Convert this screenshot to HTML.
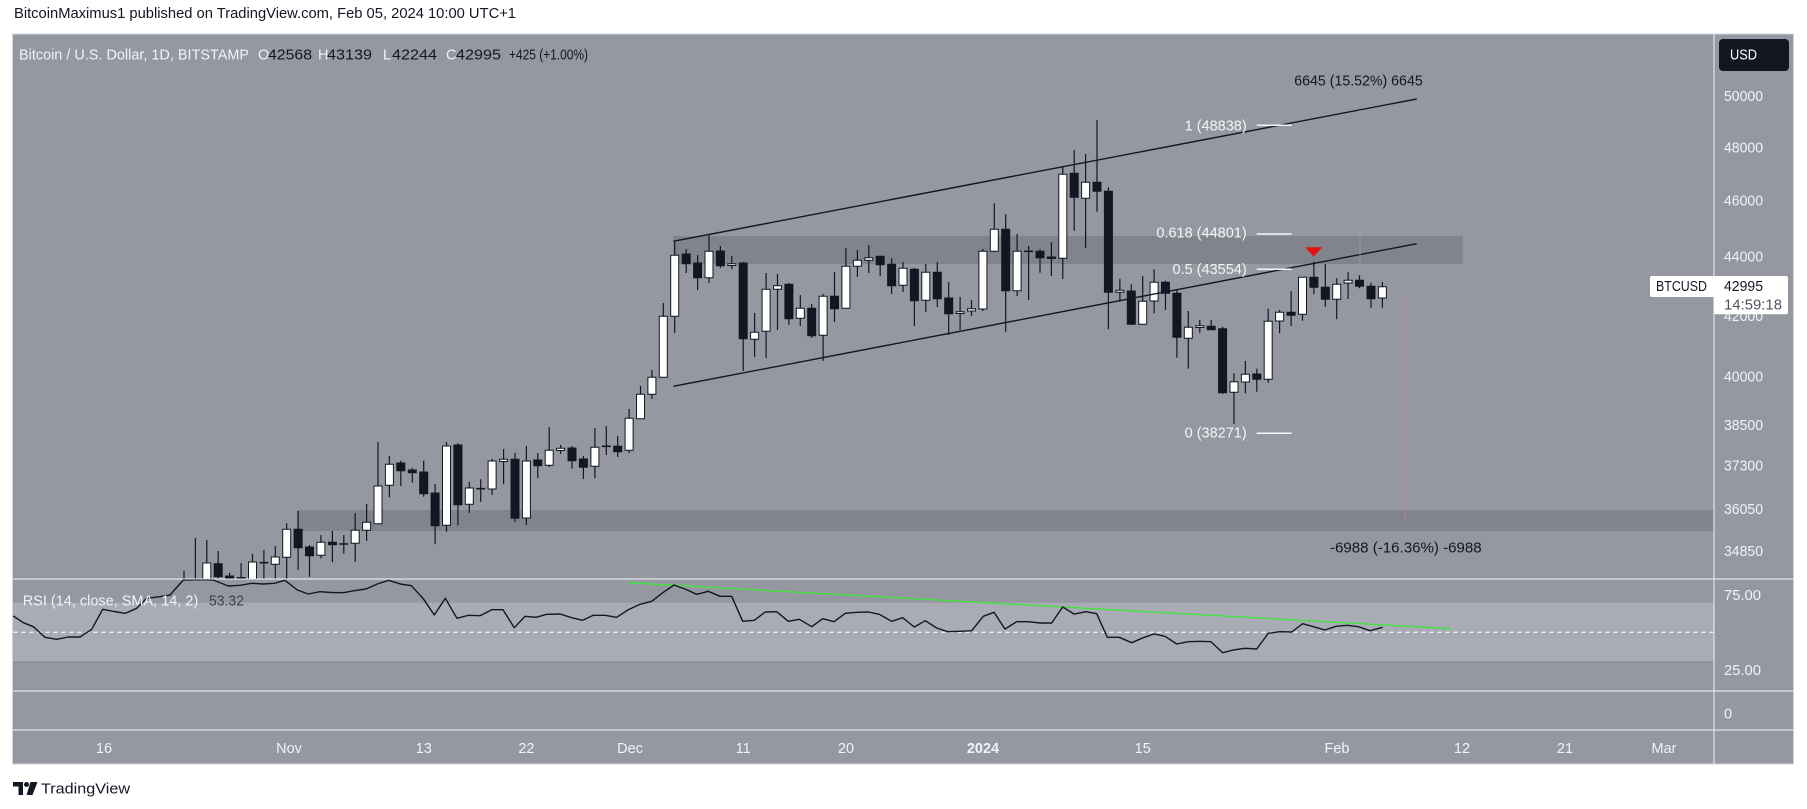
<!DOCTYPE html>
<html><head><meta charset="utf-8"><title>BTCUSD chart</title>
<style>
html,body{margin:0;padding:0;background:#fff;}
svg{display:block;font-family:"Liberation Sans",Arial,sans-serif;}
</style></head>
<body>
<svg width="1807" height="809" viewBox="0 0 1807 809" xmlns="http://www.w3.org/2000/svg">
<defs>
<clipPath id="mainClip"><rect x="13" y="34.5" width="1700.5" height="544"/></clipPath>
<clipPath id="rsiClip"><rect x="13" y="579.5" width="1700.5" height="111"/></clipPath>
</defs>

<!-- publish line -->
<text x="14" y="18" font-size="14.5" fill="#131722" textLength="502" lengthAdjust="spacingAndGlyphs">BitcoinMaximus1 published on TradingView.com, Feb 05, 2024 10:00 UTC+1</text>

<!-- frame background -->
<rect x="12.5" y="34" width="1781" height="730" fill="#9598a1" stroke="#d1d4dc" stroke-width="1"/>

<!-- main pane bands -->
<g clip-path="url(#mainClip)">
<rect x="673.3" y="236" width="789.4" height="28" fill="#81848d"/>
<rect x="297" y="510" width="1417" height="21" fill="#81848d"/>
</g>

<!-- RSI band -->
<rect x="13" y="602.7" width="1701" height="59.3" fill="#a9acb5"/>
<line x1="13" y1="662" x2="1714" y2="662" stroke="#868993" stroke-width="1.2"/>
<line x1="13" y1="632.3" x2="1714" y2="632.3" stroke="#ffffff" stroke-width="1" stroke-dasharray="4.7 3.3"/>

<!-- separators -->
<line x1="12.5" y1="579" x2="1793.5" y2="579" stroke="#e0e3eb" stroke-width="1.2"/>
<line x1="12.5" y1="691" x2="1793.5" y2="691" stroke="#e0e3eb" stroke-width="1.2"/>
<line x1="12.5" y1="730" x2="1793.5" y2="730" stroke="#e0e3eb" stroke-width="1.2"/>
<line x1="1714" y1="34" x2="1714" y2="764" stroke="#e0e3eb" stroke-width="1.2"/>

<!-- header -->
<text x="19" y="59.5" font-size="14.5" fill="#f0f3fa" textLength="230" lengthAdjust="spacingAndGlyphs">Bitcoin / U.S. Dollar, 1D, BITSTAMP</text>
<text x="258" y="59.5" font-size="14.5" fill="#f0f3fa">O</text>
<text x="268" y="59.5" font-size="14.5" fill="#131722" textLength="44" lengthAdjust="spacingAndGlyphs">42568</text>
<text x="318" y="59.5" font-size="14.5" fill="#f0f3fa">H</text>
<text x="327" y="59.5" font-size="14.5" fill="#131722" textLength="45" lengthAdjust="spacingAndGlyphs">43139</text>
<text x="383" y="59.5" font-size="14.5" fill="#f0f3fa">L</text>
<text x="392" y="59.5" font-size="14.5" fill="#131722" textLength="45" lengthAdjust="spacingAndGlyphs">42244</text>
<text x="446" y="59.5" font-size="14.5" fill="#f0f3fa">C</text>
<text x="456" y="59.5" font-size="14.5" fill="#131722" textLength="45" lengthAdjust="spacingAndGlyphs">42995</text>
<text x="509" y="59.5" font-size="14.5" fill="#131722" textLength="79" lengthAdjust="spacingAndGlyphs">+425 (+1.00%)</text>

<!-- candles -->
<g clip-path="url(#mainClip)">
<path fill="none" stroke="#131722" stroke-width="1.2" d="M184 571V580M195.4 538V580M206.8 540V590M218.2 551V585M229.6 572.7V590M241.1 563V590M252.5 553.7V590M263.9 550V585M275.3 546V585M286.7 523.3V585M298.1 511V570M309.5 545V576.7M320.9 535V558.3M332.4 531V562.3M343.8 535V553.7M355.2 513V561.7M366.6 504V541M378 442V524.3M389.4 456V497.3M400.8 460.7V486M412.3 467.7V482.7M423.7 460.7V496.7M435.1 484V544.3M446.5 442V531.7M457.9 443.3V525.3M469.3 482V512.7M480.7 479.3V501.7M492.1 458.7V495M503.6 449V484.3M515 452.7V522M526.4 446V525M537.8 453V478M549.2 427V467M560.6 445V453.7M572 446V468.7M583.4 456V479M594.9 428V478M606.3 426V455M617.7 436V457M629.1 409V453M640.5 386V419M651.9 370V399M663.3 303V377M674.7 242V333M686.2 249V273M697.6 255V290M709 235V283M720.4 246V268M731.8 256V269M743.2 262V371M754.6 313V357M766.1 273V358M777.5 274V330M788.9 283V325M800.3 295V326M811.7 304V338M823.1 294V361M834.5 272V322M845.9 248V308M857.4 250V277M868.8 245V273M880.2 256V276M891.6 258V294M903 262V292M914.4 268V326M925.8 264V312M937.3 262V307M948.7 282V335M960.1 297V330M971.5 300V316M982.9 249V311M994.3 203.3V252M1005.7 214.3V331.7M1017.1 234V296M1028.6 246V300M1040 249.3V272.7M1051.4 242.3V276M1062.8 167.3V279M1074.2 150V230.7M1085.6 154V247.7M1097 120V211.7M1108.4 187.3V329.3M1119.9 278.7V301.7M1131.3 284.3V325M1142.7 276V324.3M1154.1 269.3V313.3M1165.5 280.7V310M1176.9 290V357.7M1188.3 311V368.7M1199.8 320V332.7M1211.2 320V330M1222.6 326.7V394M1234 373.3V424M1245.4 361V393.3M1256.8 368.7V391.7M1268.2 308.7V382.7M1279.6 310V333.3M1291.1 291V326M1302.5 277.3V320.7M1313.9 261.7V294.3M1325.3 264V306.7M1336.7 278.3V319.3M1348.1 272V299M1359.5 275.3V288.3M1371 282.7V307.7M1382.4 282V307.7"/>
<path fill="none" stroke="#131722" stroke-width="1.6" d="M259.4 562.7H268.4M339.3 544H348.3M476.2 488.7H485.2M601.8 446.3H610.8M1024.1 251.3H1033.1"/>
<path fill="#131722" stroke="#131722" stroke-width="1" d="M214.2 563.7H222.2V576.7H214.2ZM225.6 576H233.6V582H225.6ZM237.1 577.5H245.1V582H237.1ZM294.1 529.3H302.1V547.7H294.1ZM305.5 547H313.5V555.7H305.5ZM328.4 542.3H336.4V544.7H328.4ZM396.8 463H404.8V470.7H396.8ZM408.3 470H416.3V472.7H408.3ZM419.7 472H427.7V493.7H419.7ZM431.1 493H439.1V525.7H431.1ZM453.9 445H461.9V504.7H453.9ZM511 459.3H519V518.3H511ZM533.8 460H541.8V465.7H533.8ZM568 448H576V460.7H568ZM579.4 459H587.4V467.3H579.4ZM613.7 446.3H621.7V451.7H613.7ZM682.2 254H690.2V263.7H682.2ZM693.6 263H701.6V277.7H693.6ZM716.4 251H724.4V265.7H716.4ZM739.2 263H747.2V338.7H739.2ZM784.9 284.3H792.9V318.7H784.9ZM807.7 308.3H815.7V335.7H807.7ZM830.5 296.3H838.5V308.7H830.5ZM876.2 256.3H884.2V264.7H876.2ZM887.6 264.3H895.6V285.7H887.6ZM910.4 269.3H918.4V300.7H910.4ZM933.3 272.3H941.3V298.7H933.3ZM944.7 298H952.7V313.7H944.7ZM1001.7 229.3H1009.7V290.7H1001.7ZM1036 251.3H1044V257.7H1036ZM1047.4 257H1055.4V258.5H1047.4ZM1070.2 173.3H1078.2V197.3H1070.2ZM1093 182.3H1101V191.3H1093ZM1104.4 191.3H1112.4V292.3H1104.4ZM1127.3 291H1135.3V324.3H1127.3ZM1161.5 282.3H1169.5V293.3H1161.5ZM1172.9 293.3H1180.9V337.3H1172.9ZM1207.2 326.3H1215.2V329.7H1207.2ZM1218.6 328.7H1226.6V392.7H1218.6ZM1252.8 374H1260.8V379.3H1252.8ZM1287.1 312.3H1295.1V315.3H1287.1ZM1309.9 277.3H1317.9V287.3H1309.9ZM1321.3 287.3H1329.3V299.3H1321.3ZM1355.5 280.3H1363.5V286.3H1355.5ZM1367 286.3H1375V298.7H1367Z"/>
<path fill="#ffffff" stroke="#131722" stroke-width="1" d="M202.8 563H210.8V590H202.8ZM248.5 562H256.5V585H248.5ZM271.3 557H279.3V564.3H271.3ZM282.7 529.3H290.7V557.3H282.7ZM316.9 542.3H324.9V555.3H316.9ZM351.2 530.3H359.2V543.3H351.2ZM362.6 522.3H370.6V530.3H362.6ZM374 486H382V523.7H374ZM385.4 464.3H393.4V485.3H385.4ZM442.5 446H450.5V525.3H442.5ZM465.3 488H473.3V504.3H465.3ZM488.1 461H496.1V489H488.1ZM499.6 459.3H507.6V461.5H499.6ZM522.4 461H530.4V518H522.4ZM545.2 450.3H553.2V465.3H545.2ZM556.6 448.3H564.6V450.5H556.6ZM590.9 447.3H598.9V466.3H590.9ZM625.1 418.3H633.1V450.3H625.1ZM636.5 394.3H644.5V418.7H636.5ZM647.9 377.3H655.9V394.3H647.9ZM659.3 316.3H667.3V377.3H659.3ZM670.7 255.3H678.7V316.3H670.7ZM705 251.3H713V277.7H705ZM727.8 263.7H735.8V265.5H727.8ZM750.6 332.3H758.6V339.3H750.6ZM762.1 289.3H770.1V331.3H762.1ZM773.5 285.7H781.5V289.3H773.5ZM796.3 308.3H804.3V318.3H796.3ZM819.1 296.3H827.1V335.3H819.1ZM841.9 266.3H849.9V308.3H841.9ZM853.4 260.3H861.4V266.3H853.4ZM864.8 257.7H872.8V260.3H864.8ZM899 268.3H907V285.3H899ZM921.8 272.3H929.8V300.3H921.8ZM956.1 311.7H964.1V313.5H956.1ZM967.5 308.7H975.5V311H967.5ZM978.9 251.3H986.9V309H978.9ZM990.3 229.3H998.3V251.3H990.3ZM1013.1 251.3H1021.1V290.7H1013.1ZM1058.8 174.3H1066.8V258.3H1058.8ZM1081.6 182.3H1089.6V198.3H1081.6ZM1115.9 290.3H1123.9V292.3H1115.9ZM1138.7 301.3H1146.7V324.3H1138.7ZM1150.1 282.3H1158.1V301H1150.1ZM1184.3 327.3H1192.3V338.3H1184.3ZM1195.8 325.7H1203.8V327.5H1195.8ZM1230 381.7H1238V392.3H1230ZM1241.4 374.3H1249.4V382H1241.4ZM1264.2 321.3H1272.2V379.3H1264.2ZM1275.6 312.3H1283.6V321H1275.6ZM1298.5 277.3H1306.5V314.3H1298.5ZM1332.7 284.3H1340.7V299.3H1332.7ZM1344.1 280.3H1352.1V283H1344.1ZM1378.4 286.7H1386.4V298H1378.4Z"/>

<!-- channel lines -->
<line x1="673.3" y1="241.3" x2="1416.7" y2="99" stroke="#131722" stroke-width="1.4"/>
<line x1="673.3" y1="386.3" x2="1416.7" y2="243.7" stroke="#131722" stroke-width="1.4"/>

<!-- measure vertical lines -->
<line x1="1360" y1="110" x2="1360" y2="275" stroke="#7fb089" stroke-opacity="0.7" stroke-width="1"/>
<line x1="1405.3" y1="293" x2="1405.3" y2="520" stroke="#c0868d" stroke-opacity="0.7" stroke-width="1"/>

<!-- red triangle -->
<polygon points="1305,247.3 1322.3,247.3 1313.7,256.7" fill="#e31212"/>

<!-- fib lines -->
<g stroke="#f5f5f5" stroke-width="1.5">
<line x1="1256.7" y1="125.3" x2="1291.7" y2="125.3"/>
<line x1="1256.7" y1="234" x2="1291.7" y2="234"/>
<line x1="1256.7" y1="269.3" x2="1291.7" y2="269.3"/>
<line x1="1256.7" y1="433.3" x2="1291.7" y2="433.3"/>
</g>
<g font-size="14.5" fill="#f5f5f5" text-anchor="end">
<text x="1246.7" y="130.3">1 (48838)</text>
<text x="1246.7" y="237.7">0.618 (44801)</text>
<text x="1246.7" y="274">0.5 (43554)</text>
<text x="1246.7" y="437.3">0 (38271)</text>
</g>
<text x="1294.3" y="85.7" font-size="14.5" fill="#131722" textLength="128.4" lengthAdjust="spacingAndGlyphs">6645 (15.52%) 6645</text>
<text x="1330" y="552.3" font-size="14.5" fill="#131722" textLength="151.7" lengthAdjust="spacingAndGlyphs">-6988 (-16.36%) -6988</text>
</g>

<!-- RSI -->
<g clip-path="url(#rsiClip)">
<line x1="628.3" y1="582.7" x2="1450.7" y2="628.7" stroke="#3fe63a" stroke-width="1.3"/>
<polyline fill="none" stroke="#131722" stroke-width="1.4" stroke-linejoin="round" points="13.3,616 23.3,622.7 33.3,626.7 45,637.3 56.7,639.3 68.3,637 80,637 91.7,629.3 102.7,609.3 114,611.5 125.3,613.3 136.7,608.3 146.7,598.3 160,596.7 170,595 183.3,580 194.3,579.8 206.3,579.8 213.3,580 228.3,586 240,585.3 251.7,583.3 263.3,584 274.3,583.3 285,580.3 297.3,590 308.3,594 320,591.7 331.3,592.5 343.3,592.7 354.3,590.7 366,589 377.3,584 388.7,580.3 400.3,584 411.3,585.7 423,598.3 434.3,615 445.3,598.3 457,618.3 468.3,615.3 480,615.7 491.7,609.7 503,609.7 514.3,627.7 525,616.3 536,617.3 546.7,614.3 560,614 571.7,617.7 582.7,620.3 593.3,615.3 605,615.3 616.7,617.3 628.3,609.7 640,604.3 651.7,601.3 663.3,592.3 674,585 685,589 696.7,594.3 708.3,591.3 720,596.3 731.7,596.3 742.7,621.3 754.3,620.3 765.3,612 776.7,611.7 788.3,621.3 799.3,619.3 811.7,626.7 822.7,618.7 834,621.7 845.3,613.3 856.7,612.3 868.3,612 879.3,614.3 891.7,621.3 902.7,617.7 914.3,627 925.3,620.7 936.7,628 947.7,631.7 959.5,631.3 971.7,630.7 983.3,616.3 994,612.3 1005,629 1016.7,621.7 1028.3,621.7 1040,623 1051.7,623 1062.7,607 1074,614 1086,611.7 1096.7,613.7 1107.3,637.3 1119.3,637.3 1131.7,642.7 1143.3,637.7 1154,634 1165,636.3 1176.7,644 1188.3,641.7 1200,641.3 1211,641.7 1222.7,652.7 1233.3,650 1245,648.3 1256.7,649 1268.3,633.3 1280,631.7 1291.7,632 1302.7,623.7 1313.3,626.7 1325,630 1336,626.3 1347.3,625.3 1358.3,626.7 1370,630.7 1382.7,627.3"/>
</g>
<text x="22.7" y="605.7" font-size="14.5" fill="#f0f3fa" textLength="175.6" lengthAdjust="spacingAndGlyphs">RSI (14, close, SMA, 14, 2)</text>
<text x="209" y="605.5" font-size="14.5" fill="#3d4049" textLength="35" lengthAdjust="spacingAndGlyphs">53.32</text>

<!-- price axis -->
<g font-size="14.5" fill="#f0f3fa">
<text x="1724" y="101" textLength="39" lengthAdjust="spacingAndGlyphs">50000</text>
<text x="1724" y="152.7" textLength="39" lengthAdjust="spacingAndGlyphs">48000</text>
<text x="1724" y="205.7" textLength="39" lengthAdjust="spacingAndGlyphs">46000</text>
<text x="1724" y="261.7" textLength="39" lengthAdjust="spacingAndGlyphs">44000</text>
<text x="1724" y="321" textLength="39" lengthAdjust="spacingAndGlyphs">42000</text>
<text x="1724" y="381.7" textLength="39" lengthAdjust="spacingAndGlyphs">40000</text>
<text x="1724" y="430" textLength="39" lengthAdjust="spacingAndGlyphs">38500</text>
<text x="1724" y="470.7" textLength="39" lengthAdjust="spacingAndGlyphs">37300</text>
<text x="1724" y="514" textLength="39" lengthAdjust="spacingAndGlyphs">36050</text>
<text x="1724" y="556" textLength="39" lengthAdjust="spacingAndGlyphs">34850</text>
<text x="1724" y="600" textLength="37" lengthAdjust="spacingAndGlyphs">75.00</text>
<text x="1724" y="675" textLength="37" lengthAdjust="spacingAndGlyphs">25.00</text>
<text x="1724" y="718.3">0</text>
</g>

<!-- USD button -->
<rect x="1719" y="39" width="70" height="32" rx="4" fill="#131722"/>
<text x="1730" y="59.5" font-size="14.5" fill="#ffffff" textLength="27" lengthAdjust="spacingAndGlyphs">USD</text>

<!-- last price label -->
<rect x="1650" y="276" width="66" height="21" rx="2" fill="#ffffff"/>
<rect x="1714" y="276" width="74" height="38.3" rx="2" fill="#ffffff"/>
<text x="1656" y="291" font-size="14.5" fill="#131722" textLength="51" lengthAdjust="spacingAndGlyphs">BTCUSD</text>
<text x="1724" y="291" font-size="14.5" fill="#131722" textLength="39" lengthAdjust="spacingAndGlyphs">42995</text>
<text x="1724" y="309.3" font-size="14.5" fill="#50535e" textLength="58" lengthAdjust="spacingAndGlyphs">14:59:18</text>

<!-- time axis -->
<g font-size="14.5" fill="#f0f3fa" text-anchor="middle">
<text x="104" y="753">16</text>
<text x="289" y="753">Nov</text>
<text x="423.7" y="753">13</text>
<text x="526.4" y="753">22</text>
<text x="630" y="753">Dec</text>
<text x="743.2" y="753">11</text>
<text x="846" y="753">20</text>
<text x="983" y="753" font-weight="bold">2024</text>
<text x="1142.7" y="753">15</text>
<text x="1337" y="753">Feb</text>
<text x="1462" y="753">12</text>
<text x="1565" y="753">21</text>
<text x="1664" y="753">Mar</text>
</g>

<!-- TradingView logo -->
<path d="M13 782H23V795H18.5V786.5H13Z" fill="#131722"/>
<circle cx="26.5" cy="784.5" r="2.5" fill="#131722"/>
<polygon points="30.5,782 37.5,782 32.5,795 26.5,795" fill="#131722"/>
<text x="41" y="793.5" font-size="15" fill="#131722" textLength="89" lengthAdjust="spacingAndGlyphs">TradingView</text>
</svg>
</body></html>
